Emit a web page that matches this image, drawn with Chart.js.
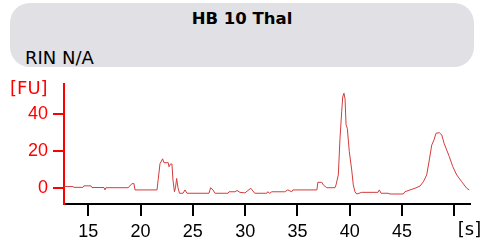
<!DOCTYPE html>
<html>
<head>
<meta charset="utf-8">
<script src="https://cdn.jsdelivr.net/npm/chart.js@4.4.1/dist/chart.umd.min.js"></script>
<style>
    html, body { margin: 0; padding: 0; background: #fff; }
    #wrap { position: relative; width: 493px; height: 245px; overflow: hidden; }
    #header {
        position: absolute; left: 10px; top: 3px; width: 464px; height: 64px;
        background: #e1e0e5; border-radius: 20px;
    }
    #title {
        position: absolute; left: 0; top: 6px; width: 100%; text-align: center;
        font: bold 16.5px "DejaVu Sans", sans-serif; line-height: 20px; color: #000;
    }
    #rin {
        position: absolute; left: 15px; top: 44px;
        font: 18px "DejaVu Sans", sans-serif; line-height: 22px; color: #000;
    }
    canvas { position: absolute; left: 0; top: 0; }
</style>
</head>
<body>
<div id="wrap">
    <div id="header">
        <div id="title">HB 10 Thal</div>
        <div id="rin">RIN N/A</div>
    </div>
    <canvas id="chart" width="493" height="245"></canvas>
</div>
<script>
// Electropherogram trace
const timeS = [
    12.68, 13.54, 13.63, 14.49, 14.59, 15.26, 15.35, 16.5, 16.6, 16.69,
    18.8, 18.99, 19.18, 19.37, 19.47, 21.57, 21.69, 21.86, 22.11, 22.24,
    22.65, 22.72, 22.86, 23.0, 23.1, 23.24, 23.34, 23.45, 23.58, 23.72,
    24.06, 24.25, 24.44, 26.54, 26.7, 26.92, 27.12, 28.36, 28.46, 29.03,
    29.22, 29.5, 29.98, 30.54, 30.92, 32.07, 32.16, 32.35, 32.55, 33.79,
    34.08, 34.46, 34.56, 36.86, 36.95, 37.34, 37.47, 37.8, 38.59, 38.69,
    38.91, 39.07, 39.23, 39.33, 39.45, 39.55, 39.65, 39.77, 39.96, 40.19,
    40.34, 40.5, 40.67, 41.15, 42.7, 42.83, 43.0, 43.66, 43.85, 45.12,
    45.28, 45.76, 46.24, 46.72, 47.04, 47.36, 47.61, 47.84, 48.06, 48.25,
    48.57, 48.8, 49.02, 49.27, 49.52, 49.85, 50.23, 50.71, 51.19, 51.43
];
const signalFU = [
    0.6, 0.6, 0.2, 0.2, 1.0, 1.0, 0.1, 0.1, -1.2, 0,
    0, 1.0, 2.2, 2.2, -1.2, -1.2, 4.5, 13, 15.6, 13.5,
    13.5, 11.3, 12.8, 12.8, 4.2, -2.2, 0, 5, 0, -3,
    -3, -1.2, -3, -3, 0, -1.2, -3, -3, -2.2, -2.2,
    -1.5, -2.5, -2.8, -0.3, -3, -3, -2.2, -3, -2.2, -2.2,
    -1.2, -2.2, -1.2, -1.2, 2.9, 2.9, 1.5, 0, 0, 1.5,
    6.9, 26.7, 41, 49, 51, 48, 34, 32, 19.5, 9.6,
    1.5, -2.2, -3.4, -2.5, -2.5, -1.2, -3, -3, -3.4, -3.4,
    -2.2, -1.2, -0.3, 0.9, 3.2, 6.9, 15, 23, 25.8, 29.4,
    29.7, 28.5, 24, 20.4, 16.8, 11.4, 6.9, 3.2, -0.3, -1.2
];
const xTicks = [15, 20, 25, 30, 35, 40, 45, 50];
const yTicks = [0, 20, 40];

const tickFont = { family: 'Liberation Sans', size: 18 };

// unit labels at the axis ends
const unitLabels = {
    id: 'unitLabels',
    afterDraw(chart) {
        const ctx = chart.ctx;
        ctx.save();
        ctx.font = '18px "DejaVu Sans"';
        ctx.textBaseline = 'middle';
        ctx.fillStyle = '#ff0000';
        ctx.textAlign = 'left';
        ctx.fillText('[FU]', 10, 89);
        ctx.fillStyle = '#000';
        ctx.textAlign = 'center';
        ctx.fillText('[s]', 469.5, 230);
        ctx.restore();
    }
};

new Chart(document.getElementById('chart'), {
    type: 'line',
    data: {
        datasets: [{
            data: timeS.map((t, i) => ({ x: t, y: signalFU[i] })),
            borderColor: '#d23c3c',
            borderWidth: 1,
            pointRadius: 0,
            tension: 0,
            fill: false
        }]
    },
    options: {
        responsive: false,
        animation: false,
        layout: { padding: { top: 84, right: 23, left: 0, bottom: 0 } },
        plugins: {
            legend: { display: false },
            tooltip: { enabled: false }
        },
        scales: {
            x: {
                type: 'linear',
                min: 12.68,
                max: 51.5,
                afterBuildTicks: (scale) => { scale.ticks = xTicks.map(v => ({ value: v })); },
                afterFit: (scale) => { scale.height = 41; },
                border: { color: '#000', width: 2 },
                grid: { drawOnChartArea: false, color: '#000', lineWidth: 2, tickLength: 12 },
                ticks: {
                    color: '#000',
                    font: tickFont,
                    padding: 5,
                    maxRotation: 0,
                    callback: (v) => (v === 50 ? '' : v)
                }
            },
            y: {
                min: -8.8,
                max: 56,
                afterBuildTicks: (scale) => { scale.ticks = yTicks.map(v => ({ value: v })); },
                afterFit: (scale) => { scale.width = 64; },
                border: { color: '#ff0000', width: 2 },
                grid: { drawOnChartArea: false, color: '#ff0000', lineWidth: 2, tickLength: 11 },
                ticks: {
                    color: '#ff0000',
                    font: tickFont,
                    padding: 5
                }
            }
        }
    },
    plugins: [unitLabels]
});
</script>
</body>
</html>
